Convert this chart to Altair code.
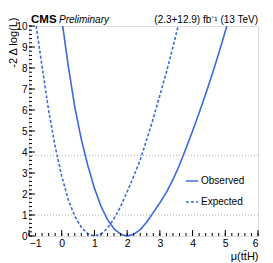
import altair as alt
import pandas as pd
import numpy as np

# Observed likelihood scan
mu_obs = [0.03, 0.2, 0.4, 0.6, 0.8, 1.0, 1.2, 1.4, 1.6, 1.8, 2.0,
          2.2, 2.4, 2.6, 2.8, 3.0, 3.2, 3.4, 3.6, 3.8, 4.0, 4.2, 4.4, 4.6, 4.8, 5.0, 5.05]
nll_obs = [10.0, 8.1, 6.14, 4.6, 3.34, 2.28, 1.42, 0.78, 0.34, 0.085, 0.0,
           0.08, 0.3, 0.66, 1.12, 1.58, 2.08, 2.68, 3.38, 4.18, 5.0, 5.86, 6.76, 7.7, 8.7, 9.75, 10.0]

# Expected likelihood scan
mu_exp = [-0.78, -0.6, -0.4, -0.2, 0.0, 0.2, 0.4, 0.6, 0.8, 1.0,
          1.2, 1.4, 1.6, 1.8, 2.0, 2.2, 2.4, 2.6, 2.8, 3.0, 3.2, 3.4, 3.56]
nll_exp = [10.0, 8.06, 5.98, 4.26, 2.85, 1.73, 0.94, 0.41, 0.10, 0.0,
           0.095, 0.37, 0.83, 1.4, 2.1, 2.85, 3.62, 4.6, 5.6, 6.7, 7.8, 9.0, 10.0]

ref_levels = [1.0, 3.84]
x_major = [-1, 0, 1, 2, 3, 4, 5, 6]
y_major = [0, 1, 2, 3, 4, 5, 6, 7, 8, 9, 10]
x_minor = [round(v, 2) for v in np.arange(-1, 6.001, 0.2)]
y_minor = [round(v, 2) for v in np.arange(0, 10.001, 0.2)]

W, H = 229, 210
BLUE = "#3b6bdb"
FONT = "Liberation Sans"

df = pd.concat([
    pd.DataFrame({"mu": mu_obs, "nll": nll_obs, "series": "Observed"}),
    pd.DataFrame({"mu": mu_exp, "nll": nll_exp, "series": "Expected"}),
])

xs = alt.Scale(domain=[-1, 6], nice=False, zero=False)
ys = alt.Scale(domain=[0, 10], nice=False, zero=False)

xaxis = alt.Axis(values=x_major, format="d", ticks=False, domain=False, grid=False,
                 labelFont=FONT, labelFontSize=10.5, labelColor="black", labelPadding=2,
                 title="μ(tt̄H)", titleFont=FONT, titleFontSize=11, titleFontWeight="normal",
                 titleColor="black", titleX=W, titleY=23, titleAlign="right",
                 titleBaseline="alphabetic")
yaxis = alt.Axis(values=y_major, format="d", ticks=False, domain=False, grid=False,
                 labelFont=FONT, labelFontSize=10, labelColor="black", labelPadding=2,
                 title="-2 Δ log(L)", titleFont=FONT, titleFontSize=11, titleFontWeight="normal",
                 titleColor="black", titleX=-12.5, titleY=-9, titleAngle=-90, titleAlign="right",
                 titleBaseline="alphabetic")

refs = alt.Chart(pd.DataFrame({"v": ref_levels})).mark_rule(
    color="#b0b0b0", strokeDash=[1, 2], strokeWidth=1
).encode(y=alt.Y("v:Q", scale=ys, axis=yaxis))

legend_cfg = dict(orient="none", legendX=156, legendY=148, title=None,
                  symbolType="stroke", symbolSize=150, symbolStrokeWidth=1.6,
                  labelFont=FONT, labelFontSize=10, labelColor="black",
                  labelOffset=2, rowPadding=9, padding=0)

lines = alt.Chart(df).mark_line(strokeWidth=1.6).encode(
    x=alt.X("mu:Q", scale=xs, axis=xaxis),
    y=alt.Y("nll:Q", scale=ys, axis=yaxis),
    color=alt.Color("series:N",
                    scale=alt.Scale(domain=["Observed", "Expected"], range=[BLUE, BLUE]),
                    legend=alt.Legend(**legend_cfg)),
    strokeDash=alt.StrokeDash("series:N",
                              scale=alt.Scale(domain=["Observed", "Expected"], range=[[1, 0], [3, 2]]),
                              legend=alt.Legend(**legend_cfg)),
    order=alt.Order("mu:Q"),
)

def xticks(vals, length):
    return alt.Chart(pd.DataFrame({"v": vals})).mark_rule(color="black", strokeWidth=1).encode(
        x=alt.X("v:Q", scale=xs, axis=xaxis), y=alt.value(H), y2=alt.value(H - length))

def yticks(vals, length):
    return alt.Chart(pd.DataFrame({"v": vals})).mark_rule(color="black", strokeWidth=1).encode(
        y=alt.Y("v:Q", scale=ys, axis=yaxis), x=alt.value(0), x2=alt.value(length))

cms = alt.Chart(pd.DataFrame({"t": ["CMS"]})).mark_text(
    font=FONT, fontSize=11.5, fontWeight="bold", align="left", baseline="alphabetic", color="black"
).encode(text="t:N", x=alt.value(2), y=alt.value(-3))
prelim = alt.Chart(pd.DataFrame({"t": ["Preliminary"]})).mark_text(
    font=FONT, fontSize=10, fontStyle="italic", align="left", baseline="alphabetic", color="black"
).encode(text="t:N", x=alt.value(30), y=alt.value(-3))
lumi = alt.Chart(pd.DataFrame({"t": ["(2.3+12.9) fb⁻¹ (13 TeV)"]})).mark_text(
    font=FONT, fontSize=10, align="right", baseline="alphabetic", color="black"
).encode(text="t:N", x=alt.value(W), y=alt.value(-3))

chart = alt.layer(
    lines, refs,
    xticks(x_minor, 3), xticks(x_major, 6),
    yticks(y_minor, 3), yticks(y_major, 6),
    cms, prelim, lumi,
).properties(
    width=W, height=H,
    autosize=alt.AutoSizeParams(type="none"),
    padding={"left": 21, "top": 18, "right": 7, "bottom": 27},
).configure_view(stroke="black", strokeWidth=1).configure(background="white")

chart.save("out.html", embed_options={"renderer": "svg", "actions": False})
